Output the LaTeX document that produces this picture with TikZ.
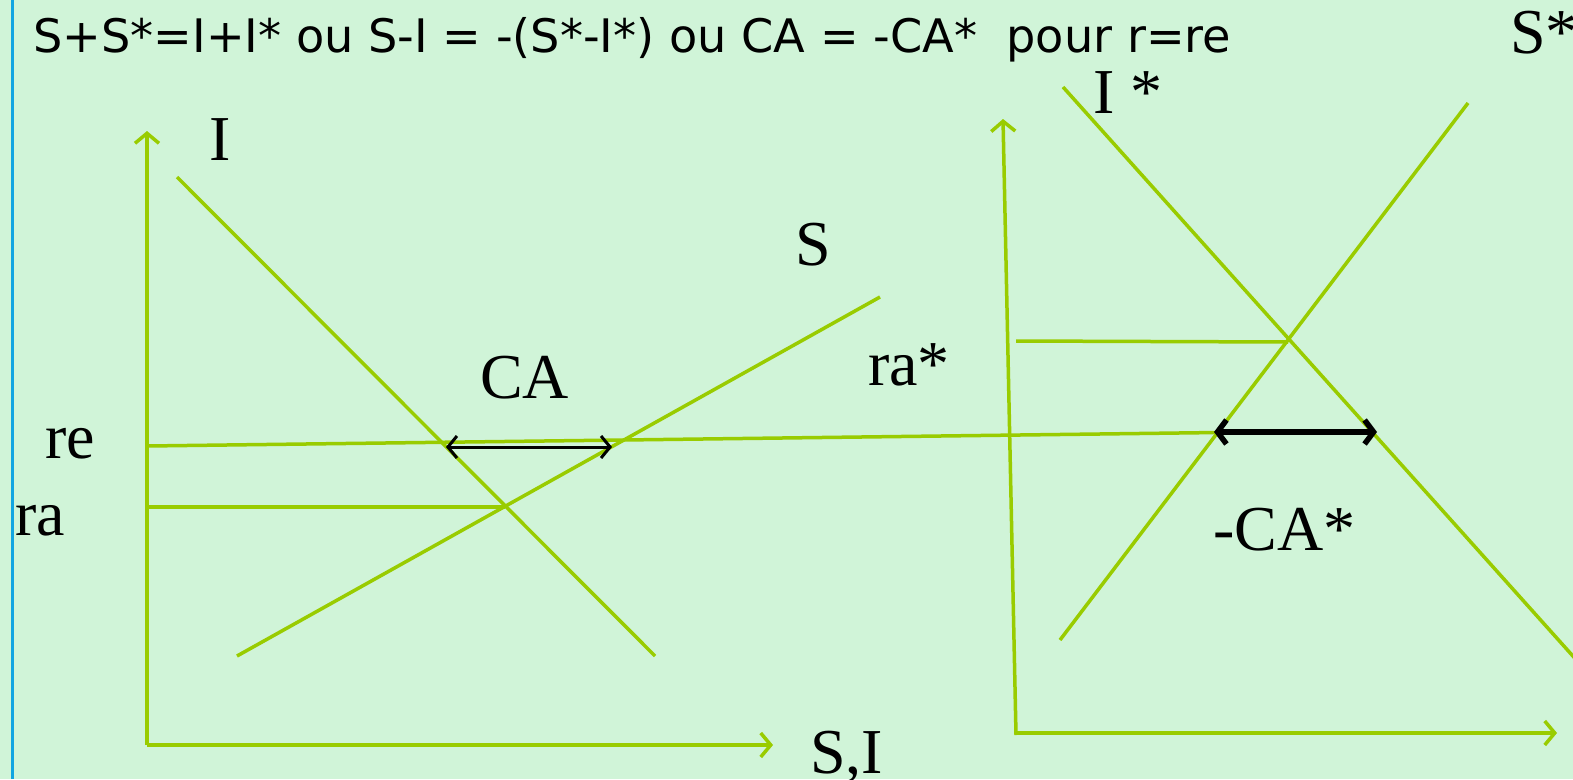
\documentclass[tikz,border=0pt]{standalone}
\usepackage{fontspec}
\setmainfont{Liberation Serif}
\newfontfamily\sansf{DejaVu Sans}
\usetikzlibrary{arrows.meta}
\definecolor{bg}{RGB}{208,244,216}
\definecolor{lg}{RGB}{153,204,0}
\definecolor{bl}{RGB}{18,165,225}
\begin{document}
\begin{tikzpicture}[x=1pt,y=-1pt,
  gline/.style={lg, line width=3.5pt},
  axis/.style={gline, -{Straight Barb[length=10pt,width=24pt,line width=3.5pt]}},
  lab/.style={inner sep=0pt, anchor=base west, font=\fontsize{64}{72}\selectfont},
  thinarr/.style={black, line width=3pt, {Straight Barb[length=9pt,width=22pt]}-{Straight Barb[length=9pt,width=22pt]}},
  thickarr/.style={black, line width=5.5pt, {Straight Barb[length=9pt,width=24pt]}-{Straight Barb[length=9pt,width=24pt]}}]
\fill[bg] (0,0) rectangle (1573,779);
\useasboundingbox (0,0) rectangle (1573,779);
\draw[bl, line width=3.2pt] (12.5,0) -- (12.5,779);
% title
\node[inner sep=0pt, anchor=base west, font=\sansf\fontsize{46.2}{52}\selectfont] (title) at (33,52) {S+S*=I+I* ou S-I = -(S*-I*) ou CA = -CA*\ \ pour r=re};
% coordinates
\coordinate (O1) at (147,745);
\coordinate (Y1) at (147,131);
\coordinate (X1) at (773,745);
\coordinate (Itop) at (177,177);
\coordinate (Ibot) at (655,656);
\coordinate (Sbot) at (237,656);
\coordinate (Stop) at (880,297);
\coordinate (re0) at (147,446);
\coordinate (re1) at (1258,432);
\coordinate (ra0) at (147,507);
\coordinate (ra1) at (505,507);
\coordinate (CAl) at (446,447);
\coordinate (CAr) at (612,447);
\coordinate (O2b) at (1016,735);
\coordinate (O2) at (1016,733);
\coordinate (Y2) at (1003,119);
\coordinate (X2) at (1557,733);
\coordinate (Ist0) at (1063,87);
\coordinate (Ist1) at (1580,664);
\coordinate (Sst0) at (1060,640);
\coordinate (Sst1) at (1468,103);
\coordinate (rast0) at (1016,341);
\coordinate (rast1) at (1288,342);
\coordinate (CAsl) at (1214,432);
\coordinate (CAsr) at (1377,432);
% left graph
\draw[axis] (O1) -- (Y1);
\draw[axis] (O1) -- (X1);
\draw[gline] (Itop) -- (Ibot);
\draw[gline] (Sbot) -- (Stop);
\draw[gline] (ra0) -- (ra1);
\draw[gline] (re0) -- (re1);
\draw[thinarr] (CAl) -- (CAr);
% right graph
\draw[axis] (O2b) -- (Y2);
\draw[axis] (O2) -- (X2);
\draw[gline] (Ist0) -- (Ist1);
\draw[gline] (Sst0) -- (Sst1);
\draw[gline] (rast0) -- (rast1);
\draw[thickarr] (CAsl) -- (CAsr);
% labels
\node[lab] (lI) at (209,160) {I};
\node[lab] (lS) at (795,265) {S};
\node[lab] (lCA) at (480,398) {CA};
\node[lab] (lre) at (45,458) {re};
\node[lab] (lra) at (15,535) {ra};
\node[lab] (lSI) at (810,773) {S,I};
\node[lab] (lIst) at (1093,113) {I *};
\node[lab] (lrast) at (868,385) {ra*};
\node[lab] (lCAst) at (1213,550) {-CA*};
\node[lab] (lSst) at (1510,53) {S*};
\end{tikzpicture}
\end{document}
